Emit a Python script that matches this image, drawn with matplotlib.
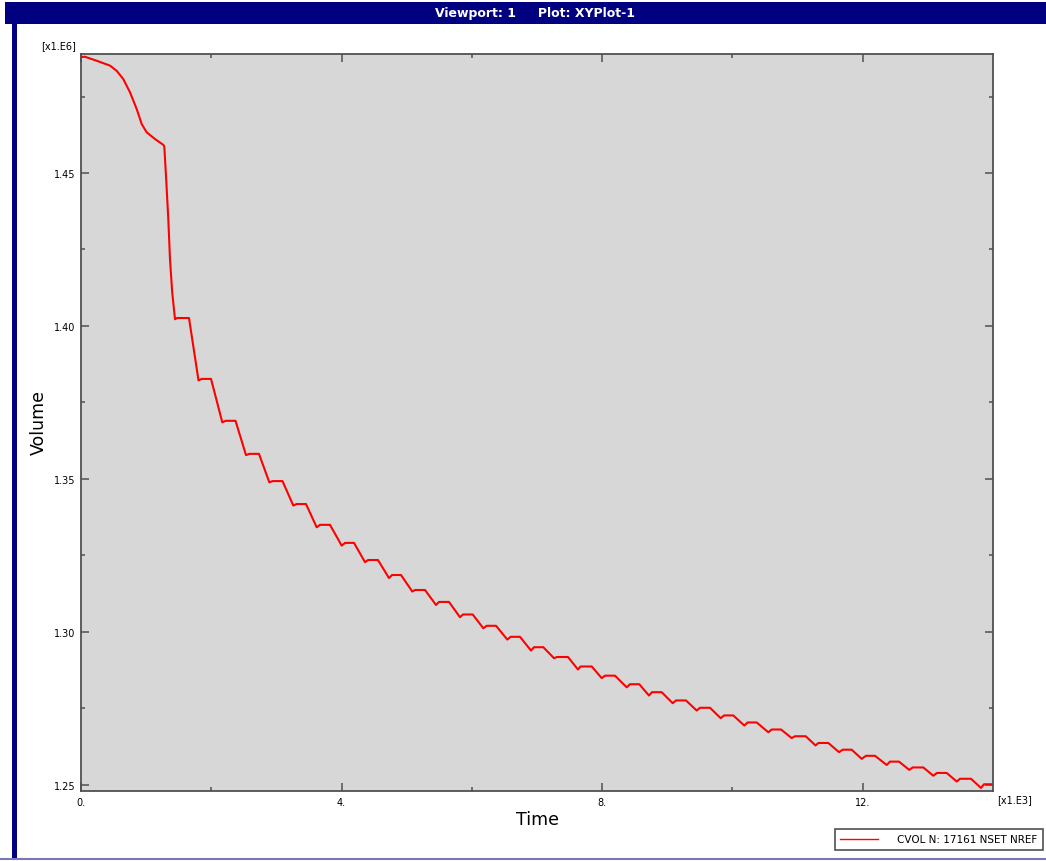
import matplotlib
matplotlib.use("Agg")
import matplotlib.pyplot as plt
from matplotlib.patches import Rectangle
from matplotlib.lines import Line2D

# ---------------- data (time in x1.E3, volume in x1.E6) ----------------
init_t = [0.0, 0.06, 0.24, 0.445, 0.548, 0.649, 0.752, 0.855, 0.932, 1.008, 1.136, 1.264,
          1.279, 1.31, 1.34, 1.366, 1.40]
init_v = [1.4879, 1.4880, 1.4867, 1.4851, 1.4834, 1.4807, 1.4764, 1.4709, 1.4660, 1.4633,
          1.4611, 1.4592, 1.4587, 1.4470, 1.4350, 1.4219, 1.4110]

# each step: bottom of the drop, start of plateau, plateau level, end of plateau
bottom_t = [1.443, 1.804, 2.169, 2.533, 2.891, 3.259, 3.618, 4.002, 4.360, 4.728,
            5.086, 5.450, 5.818, 6.176, 6.544, 6.908, 7.261, 7.629, 7.993, 8.377,
            8.719, 9.083, 9.452, 9.820, 10.182, 10.551, 10.910, 11.275, 11.636, 11.984,
            12.368, 12.715, 13.083, 13.443, 13.816]
bottom_v = [1.4022, 1.3822, 1.3685, 1.3578, 1.3489, 1.3413, 1.3342, 1.3282, 1.3228, 1.3176,
            1.3132, 1.3088, 1.3048, 1.3012, 1.2975, 1.2939, 1.2914, 1.2877, 1.2849, 1.2819,
            1.2792, 1.2767, 1.2743, 1.2718, 1.2694, 1.2672, 1.2653, 1.2629, 1.2607, 1.2585,
            1.2565, 1.2549, 1.2530, 1.2511, 1.2490]
plat_start_t = [1.474, 1.853, 2.221, 2.584, 2.943, 3.311, 3.669, 4.053, 4.406, 4.774,
                5.127, 5.496, 5.864, 6.228, 6.596, 6.954, 7.307, 7.668, 8.044, 8.428,
                8.765, 9.134, 9.502, 9.871, 10.234, 10.603, 10.960, 11.321, 11.693, 12.050,
                12.419, 12.767, 13.140, 13.493, 13.862]
plat_v = [1.4026, 1.3827, 1.3690, 1.3582, 1.3493, 1.3418, 1.3350, 1.3291, 1.3235, 1.3186,
          1.3137, 1.3098, 1.3057, 1.3020, 1.2984, 1.2950, 1.2918, 1.2887, 1.2857, 1.2829,
          1.2803, 1.2776, 1.2752, 1.2727, 1.2704, 1.2681, 1.2659, 1.2637, 1.2615, 1.2595,
          1.2576, 1.2557, 1.2539, 1.2520, 1.2502]
plat_end_t = [1.658, 1.996, 2.372, 2.732, 3.093, 3.454, 3.822, 4.191, 4.559, 4.912,
              5.281, 5.649, 6.013, 6.371, 6.739, 7.097, 7.476, 7.840, 8.197, 8.570,
              8.914, 9.287, 9.656, 10.013, 10.373, 10.746, 11.125, 11.472, 11.831, 12.189,
              12.557, 12.930, 13.289, 13.662, 14.0]

x_major = [0, 4, 8, 12]
x_major_labels = ["0.", "4.", "8.", "12."]
x_minor = [2, 6, 10]
y_major = [1.25, 1.30, 1.35, 1.40, 1.45]
y_major_labels = ["1.25", "1.30", "1.35", "1.40", "1.45"]
y_minor = [1.275, 1.325, 1.375, 1.425, 1.475]

legend_label = "CVOL N: 17161 NSET NREF"
title_text = "Viewport: 1     Plot: XYPlot-1"

# ---------------- assemble polyline ----------------
t = list(init_t)
v = list(init_v)
for bt, bv, ps, pv, pe in zip(bottom_t, bottom_v, plat_start_t, plat_v, plat_end_t):
    t += [bt, ps, pe]
    v += [bv, pv, pv]

# ---------------- figure ----------------
W, H = 1046, 862
fig = plt.figure(figsize=(W / 100, H / 100), dpi=100)
fig.patch.set_facecolor("white")

navy = "#000080"
# title bar
fig.add_artist(Rectangle((5 / W, 1 - 25 / H), 1 - 5 / W, 22 / H, transform=fig.transFigure,
                         facecolor=navy, edgecolor="none"))
# left border bar
fig.add_artist(Rectangle((12 / W, 2 / H), 5 / W, 1 - 27 / H, transform=fig.transFigure,
                         facecolor=navy, edgecolor="none"))
# bottom line
fig.add_artist(Line2D([0, 1], [1 - 860 / H, 1 - 860 / H], transform=fig.transFigure,
                      color="#7878b8", lw=1.5))
fig.text(535 / W, 1 - 14 / H, title_text, color="white", fontsize=9, fontweight="bold",
         ha="center", va="center")

ax = fig.add_axes([81 / W, 1 - 792 / H, 912 / W, 737 / H])
ax.set_facecolor("#d7d7d7")
line, = ax.plot(t, v, color="red", lw=1.5, label=legend_label, solid_joinstyle="round")
ax.set_xlim(0, 14)
ax.set_ylim(1.2480, 1.4889)

ax.set_xticks(x_major)
ax.set_xticklabels(x_major_labels)
ax.set_xticks(x_minor, minor=True)
ax.set_yticks(y_major)
ax.set_yticklabels(y_major_labels)
ax.set_yticks(y_minor, minor=True)
ax.tick_params(which="both", direction="in", top=True, right=True, color="#505050",
               labelsize=7, labelcolor="black")
ax.tick_params(which="major", length=6, width=1.1, pad=4)
ax.tick_params(which="minor", length=3, width=1.1)
for s in ax.spines.values():
    s.set_color("#505050")
    s.set_linewidth(1.3)

fig.text(41 / W, 1 - 45.7 / H, "[x1.E6]", fontsize=7, ha="left", va="center")
fig.text(997 / W, 1 - 800 / H, "[x1.E3]", fontsize=7, ha="left", va="center")
fig.text(39 / W, 1 - 423 / H, "Volume", fontsize=12.5, rotation=90, ha="center", va="center")
fig.text(537 / W, 1 - 820 / H, "Time", fontsize=12.5, ha="center", va="center")

leg = fig.legend(handles=[line], loc="lower right",
                 bbox_to_anchor=(1042.7 / W, 1 - 851 / H), fontsize=7.5,
                 handlelength=3.6, handletextpad=1.8, borderpad=0.55, borderaxespad=0,
                 fancybox=False, framealpha=1, edgecolor="#505050")
leg.get_frame().set_linewidth(1.2)
leg.get_lines()[0].set_linewidth(1.0)

fig.savefig("out.png", dpi=100, facecolor="white")
